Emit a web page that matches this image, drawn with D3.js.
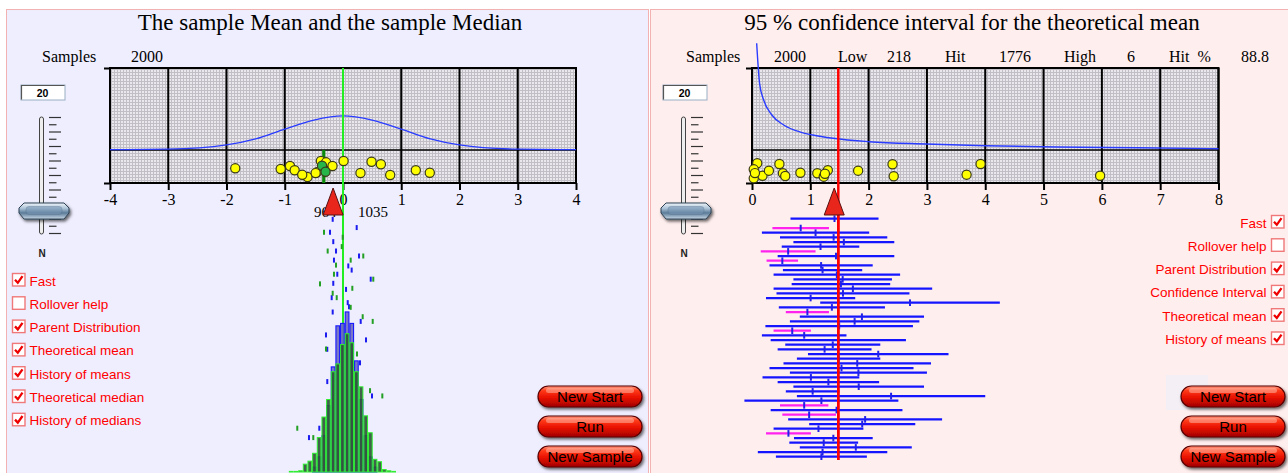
<!DOCTYPE html>
<html><head><meta charset="utf-8">
<script src="https://cdn.jsdelivr.net/npm/d3@7"></script>
<style>
html,body{margin:0;padding:0;background:#fff;}
svg{display:block;}
</style></head><body>
<svg id="chart" width="1288" height="473"></svg>
<script>
// ---------- data ----------
const leftTitle = "The sample Mean and the sample Median";
const rightTitle = "95 % confidence interval for the theoretical mean";
const sampleSize = 20;
const samplesDrawn = 2000;
const leftTicks = [-4, -3, -2, -1, 0, 1, 2, 3, 4];
const rightTicks = [0, 1, 2, 3, 4, 5, 6, 7, 8];

// parent distributions (value, density)
const normalX = [-4, -3, -2, -1.5, -1, -0.5, 0, 0.5, 1, 1.5, 2, 3, 4];
const normalDensity = [0.004, 0.01, 0.06, 0.13, 0.245, 0.35, 0.399, 0.35, 0.245, 0.13, 0.06, 0.01, 0.004];
const skewX = [0.08, 0.13, 0.20, 0.34, 0.55, 0.83, 1.04, 1.39, 2.01, 2.98, 4.01, 5.22, 6.61, 8.0];
const skewDensity = [1.25, 0.78, 0.585, 0.41, 0.29, 0.21, 0.176, 0.137, 0.097, 0.07, 0.05, 0.035, 0.027, 0.015];

// current samples of size 20 and the jitter used to spread the dots
const leftSample = [-1.85, -1.07, -0.91, -0.83, -0.61, -0.45, -0.38, -0.29, -0.18, 0.01, 0.30, 0.49, 0.65, 0.81, 1.25, 1.49, -0.36, -0.30, -0.47, -0.70];
const leftJitter = [0.445, 0.424, 0.515, 0.385, 0.182, 0.324, 0.667, 0.627, 0.515, 0.667, 0.303, 0.645, 0.567, 0.242, 0.385, 0.312, 0.524, 0.342, 0.30, 0.25];
const rightSample = [0.09, 0.03, 0.03, 0.18, 0.29, 0.47, 0.53, 0.57, 0.83, 1.12, 1.23, 1.30, 1.82, 2.41, 2.43, 3.68, 3.92, 5.97, 0.05, 1.25];
const rightJitter = [0.597, 0.415, 0.142, 0.221, 0.373, 0.576, 0.294, 0.212, 0.312, 0.294, 0.191, 0.385, 0.373, 0.567, 0.203, 0.252, 0.576, 0.221, 0.30, 0.28];

const theoreticalMeanLeft = 0;
const theoreticalMeanRight = 1.48;
const meanSplit = [964, 1035];

// histories of sample means / medians (value, level in the history column)
const historyMeans = [-0.177, -0.223, 0.235, -0.167, -0.120, 0.275, -0.155, 0.091, 0.149, -0.098, 0.476, -0.167, 0.052, -0.194, 0.081, 0.103, -0.177, 0.304, -0.292, 0.395, -0.270, 0.292, -0.270, 0.498, -0.407, -0.584];
const historyMeanLevel = [0.088, 0.135, 0.118, 0.169, 0.203, 0.221, 0.236, 0.257, 0.272, 0.287, 0.305, 0.320, 0.342, 0.372, 0.390, 0.405, 0.424, 0.458, 0.507, 0.525, 0.559, 0.608, 0.676, 0.728, 0.845, 0.879];
const historyMedians = [-0.326, -0.005, -0.022, -0.263, 0.132, 0.348, -0.120, -0.155, -0.395, 0.520, 0.160, -0.108, -0.177, 0.132, 0.338, 0.510, -0.292, 0.240, 0.464, 0.675, -0.785, -0.510];
const historyMedianLevel = [0.135, 0.153, 0.187, 0.203, 0.236, 0.221, 0.254, 0.287, 0.322, 0.305, 0.338, 0.372, 0.356, 0.407, 0.441, 0.458, 0.558, 0.576, 0.709, 0.728, 0.845, 0.879];

// histogram of the 2000 means and medians
const binLefts = [-0.93, -0.85, -0.77, -0.69, -0.61, -0.53, -0.45, -0.37, -0.29, -0.21, -0.13, -0.05, 0.03, 0.11, 0.19, 0.27, 0.35, 0.43, 0.51, 0.59, 0.67, 0.75, 0.83];
const binWidth = 0.08;
const meanCounts = [0, 0, 0, 0, 0, 8, 25, 60, 110, 174, 242, 246, 265, 246, 184, 120, 60, 25, 8, 0, 0, 0, 0];
const medianCounts = [1, 1, 2, 13, 18, 31, 57, 91, 120, 166, 179, 211, 229, 214, 166, 141, 93, 65, 21, 17, 4, 2, 1];

// 95% confidence intervals of the latest samples, newest first (null = no interval)
const ciLow = [0.66, null, 0.35, 0.17, 0.48, 0.71, 0.51, 0.15, 0.44, 0.25, 0.30, 0.53, 0.37, 0.71, 0.68, 0.37, 0.42, 0.24, 1.17, 0.46, 0.58, 0.82, 0.65, 0.23, 0.37, 0.17, 0.32, 0.57, 0.44, 0.96, 0.77, 0.54, 0.30, 0.65, 0.18, 0.44, 0.71, 0.58, 0.77, -0.13, 0.48, 0.32, 0.52, 0.62, 0.98, 0.37, 0.24, 0.72, 0.64, 0.82, 0.10, 0.41];
const ciHigh = [2.17, null, 1.32, 2.01, 2.32, 2.44, 1.84, 1.09, 2.44, 0.79, 2.07, 1.89, 2.54, 2.40, 2.37, 3.09, 2.70, 1.77, 4.25, 2.28, 1.32, 2.95, 2.87, 2.76, 1.01, 1.62, 2.64, 2.20, 2.05, 3.37, 2.20, 3.07, 2.77, 3.00, 1.84, 2.18, 2.95, 1.50, 4.00, 2.51, 1.31, 2.58, 1.44, 3.26, 2.80, 1.91, 1.01, 2.07, 1.82, 2.74, 2.32, 1.97];

const rightStatNames = ["Samples", "Low", "Hit", "High", "Hit\u00a0\u00a0%"];
const rightStatValues = ["2000", "218", "1776", "6", "88.8"];

const leftOptions = ["Fast", "Rollover help", "Parent Distribution", "Theoretical mean", "History of means", "Theoretical median", "History of medians"];
const leftChecked = [true, false, true, true, true, true, true];
const rightOptions = ["Fast", "Rollover help", "Parent Distribution", "Confidence Interval", "Theoretical mean", "History of means"];
const rightChecked = [true, false, true, true, true, true];
const buttonLabels = ["New Start", "Run", "New Sample"];

// ---------- layout ----------
const SERIF = "'Liberation Serif','Times New Roman',serif";
const SANS = "'Liberation Sans',Arial,sans-serif";
const plotTop = 68, plotBottom = 183, plotMid = 150;

const svg = d3.select("#chart");
const defs = svg.append("defs");

// fine mesh inside the plotting frames
const mesh = defs.append("pattern").attr("id", "mesh").attr("patternUnits", "userSpaceOnUse")
  .attr("width", 3).attr("height", 3);
mesh.append("rect").attr("width", 3).attr("height", 3).attr("fill", "#eae8ec");
mesh.append("path").attr("d", "M0,0.5H3M0.5,0V3").attr("stroke", "#c2bec6").attr("stroke-width", 1);

// glossy red button
const bg = defs.append("linearGradient").attr("id", "btn").attr("x1", 0).attr("x2", 0).attr("y1", 0).attr("y2", 1);
[["0%", "#ff9c86"], ["22%", "#ff3a18"], ["55%", "#e81200"], ["100%", "#a00000"]]
  .forEach(([o, c]) => bg.append("stop").attr("offset", o).attr("stop-color", c));
const thumbG = defs.append("linearGradient").attr("id", "thumb").attr("x1", 0).attr("x2", 0).attr("y1", 0).attr("y2", 1);
[["0%", "#eef4fa"], ["35%", "#a9c0d4"], ["62%", "#5a7b98"], ["100%", "#c9d8e6"]]
  .forEach(([o, c]) => thumbG.append("stop").attr("offset", o).attr("stop-color", c));
const sh = defs.append("filter").attr("id", "shadow").attr("x", "-20%").attr("y", "-30%").attr("width", "140%").attr("height", "170%");
sh.append("feDropShadow").attr("dx", 1.5).attr("dy", 2).attr("stdDeviation", 1.6).attr("flood-color", "#000").attr("flood-opacity", 0.6);

// panels
svg.append("rect").attr("x", 6.5).attr("y", 9.5).attr("width", 642).attr("height", 470)
  .attr("fill", "#eeeeff").attr("stroke", "#f2b2b2");
svg.append("rect").attr("x", 650.5).attr("y", 9.5).attr("width", 640).attr("height", 470)
  .attr("fill", "#ffeeee").attr("stroke", "#f2b2b2");

const xL = d3.scaleLinear().domain([-4, 4]).range([110, 576]);
const xR = d3.scaleLinear().domain([0, 8]).range([752, 1218.5]);
const densY = d3.scaleLinear().domain([0, 0.96]).range([plotMid, plotTop]);
const jitterY = d3.scaleLinear().domain([0, 1]).range([plotBottom, plotMid]);

function titleText(x, txt) {
  svg.append("text").attr("x", x).attr("y", 30).attr("text-anchor", "middle")
    .attr("font-family", SERIF).attr("font-size", 23).attr("fill", "#000").text(txt);
}
titleText(330, leftTitle);
titleText(972, rightTitle);

function frame(x, ticks) {
  const g = svg.append("g");
  const [x0, x1] = x.range();
  g.append("rect").attr("x", x0).attr("y", plotTop).attr("width", x1 - x0).attr("height", plotBottom - plotTop)
    .attr("fill", "url(#mesh)");
  g.selectAll("line.major").data(ticks).join("line").attr("class", "major")
    .attr("x1", d => x(d)).attr("x2", d => x(d)).attr("y1", plotTop).attr("y2", plotBottom)
    .attr("stroke", "#000").attr("stroke-width", 2);
  g.append("line").attr("x1", x0).attr("x2", x1).attr("y1", plotMid).attr("y2", plotMid)
    .attr("stroke", "#000").attr("stroke-width", 1.5);
  g.append("rect").attr("x", x0).attr("y", plotTop).attr("width", x1 - x0).attr("height", plotBottom - plotTop)
    .attr("fill", "none").attr("stroke", "#000").attr("stroke-width", 2);
  const ax = g.append("g").attr("transform", `translate(0,${plotBottom})`)
    .call(d3.axisBottom(x).tickValues(ticks).tickFormat(d => String(d)).tickSize(7).tickPadding(4));
  ax.select(".domain").remove();
  ax.selectAll(".tick line").attr("stroke", "#000").attr("stroke-width", 2);
  ax.selectAll(".tick text").attr("font-family", SERIF).attr("font-size", 16).attr("fill", "#000");
  const ly = d3.scaleLinear().domain([0, 1]).range([plotBottom, plotTop]);
  const lax = g.append("g").attr("transform", `translate(${x0},0)`)
    .call(d3.axisLeft(ly).tickValues([0, 1]).tickFormat("").tickSize(6));
  lax.select(".domain").remove();
  lax.selectAll(".tick line").attr("stroke", "#000").attr("stroke-width", 2);
  return g;
}

function densityCurve(g, x, xs, ds) {
  const pts = xs.map((v, i) => [v, ds[i]]);
  g.append("path").datum(pts)
    .attr("d", d3.line().x(d => x(d[0])).y(d => densY(d[1])).curve(d3.curveMonotoneX))
    .attr("fill", "none").attr("stroke", "#2a3cff").attr("stroke-width", 1.4);
}

function triangle(x, v) {
  const cx = x(v);
  svg.append("path").attr("d", `M${cx},188L${cx + 10},215L${cx - 10},215Z`)
    .attr("fill", "#e8261c").attr("stroke", "#5a1010").attr("stroke-width", 1);
}

function slider(dx) {
  const g = svg.append("g").attr("transform", `translate(${dx},0)`);
  g.append("rect").attr("x", 21).attr("y", 85).attr("width", 44).attr("height", 15)
    .attr("fill", "#fff").attr("stroke", "#9aaec4").attr("stroke-width", 1);
  g.append("path").attr("d", "M21.5,99.5V85.5H64.5").attr("fill", "none").attr("stroke", "#555").attr("stroke-width", 1.2);
  g.append("text").attr("x", 42.5).attr("y", 96.5).attr("text-anchor", "middle")
    .attr("font-family", SANS).attr("font-size", 10.5).attr("font-weight", "bold").text(String(sampleSize));
  g.append("rect").attr("x", 39.5).attr("y", 117).attr("width", 4).attr("height", 117).attr("rx", 2)
    .attr("fill", "#eeeeee").attr("stroke", "#444").attr("stroke-width", 1);
  g.selectAll("line.tk").data(d3.range(17)).join("line").attr("class", "tk")
    .attr("x1", 49).attr("x2", i => i % 2 === 0 ? 61 : 56.5)
    .attr("y1", i => 117.5 + i * 7.25).attr("y2", i => 117.5 + i * 7.25)
    .attr("stroke", "#333").attr("stroke-width", 1.2);
  const t = g.append("g").attr("filter", "url(#shadow)");
  t.append("path").attr("d", "M24,203H64L69,208V213L64,219H24L19,213V208Z")
    .attr("fill", "url(#thumb)").attr("stroke", "#2f4254").attr("stroke-width", 1);
  t.append("rect").attr("x", 26).attr("y", 206.5).attr("width", 36).attr("height", 8).attr("rx", 3)
    .attr("fill", "#7595b3").attr("opacity", 0.55).attr("stroke", "#4f6c88").attr("stroke-width", 0.7);
  g.append("text").attr("x", 42).attr("y", 257).attr("text-anchor", "middle")
    .attr("font-family", SANS).attr("font-size", 10).attr("font-weight", "bold").attr("fill", "#222").text("N");
}

function checkbox(g, x, y, on) {
  g.append("rect").attr("x", x + 0.5).attr("y", y + 0.5).attr("width", 12.5).attr("height", 12.5)
    .attr("fill", "#fff").attr("stroke", "#f07878").attr("stroke-width", 1.4);
  if (on) g.append("path").attr("d", `M${x + 3},${y + 6.8}L${x + 5.8},${y + 9.8}L${x + 10.5},${y + 3.2}`)
    .attr("fill", "none").attr("stroke", "#ee0000").attr("stroke-width", 2.3);
}

function buttons(x0) {
  const g = svg.append("g");
  buttonLabels.forEach((lab, i) => {
    const y = 386 + i * 30;
    const b = g.append("g").attr("filter", "url(#shadow)");
    b.append("rect").attr("x", x0).attr("y", y).attr("width", 104).attr("height", 21).attr("rx", 10.5)
      .attr("fill", "url(#btn)").attr("stroke", "#5a0000").attr("stroke-width", 1.2);
    g.append("rect").attr("x", x0 + 8).attr("y", y + 2).attr("width", 88).attr("height", 5).attr("rx", 2.5)
      .attr("fill", "#ffd0c0").attr("opacity", 0.45);
    g.append("text").attr("x", x0 + 52).attr("y", y + 16).attr("text-anchor", "middle")
      .attr("font-family", SANS).attr("font-size", 15).attr("fill", "#000").text(lab);
  });
}

// ---------- left panel ----------
slider(0);
svg.append("text").attr("x", 42).attr("y", 62).attr("font-family", SERIF).attr("font-size", 16).text("Samples");
svg.append("text").attr("x", 131).attr("y", 62).attr("font-family", SERIF).attr("font-size", 16).text(String(samplesDrawn));

const gL = frame(xL, leftTicks);
densityCurve(gL, xL, normalX, normalDensity);

// theoretical mean / median line
svg.append("line").attr("x1", xL(theoreticalMeanLeft)).attr("x2", xL(theoreticalMeanLeft))
  .attr("y1", plotTop).attr("y2", 472).attr("stroke", "#22ee22").attr("stroke-width", 2);

const sampleMedian = d3.median(leftSample);
const sampleMean = d3.mean(leftSample);
svg.append("line").attr("x1", xL(sampleMedian)).attr("x2", xL(sampleMedian))
  .attr("y1", plotMid).attr("y2", plotBottom).attr("stroke", "#0a8a0a").attr("stroke-width", 3.2);

const sortedLeft = leftSample.slice().sort(d3.ascending);
const midVals = [sortedLeft[sampleSize / 2 - 1], sortedLeft[sampleSize / 2]];
const leftDots = leftSample.map((v, i) => ({ v, j: leftJitter[i], mid: midVals.includes(v) }))
  .sort((a, b) => a.mid - b.mid);
svg.append("g").selectAll("circle").data(leftDots).join("circle")
  .attr("cx", d => xL(d.v)).attr("cy", d => jitterY(d.j)).attr("r", 4.6)
  .attr("fill", d => d.mid ? "#25b548" : "#ffff00").attr("stroke", "#3a3a1a").attr("stroke-width", 1.2);

// counts of means below / above the theoretical mean
svg.append("text").attr("x", xL(theoreticalMeanLeft) - 29).attr("y", 217).attr("font-family", SERIF)
  .attr("font-size", 15).text(String(meanSplit[0]));
svg.append("text").attr("x", xL(theoreticalMeanLeft) + 15).attr("y", 217).attr("font-family", SERIF)
  .attr("font-size", 15).text(String(meanSplit[1]));

// history of means and medians + histograms
const histY = d3.scaleLinear().domain([0, 1]).range([195, 471]);
const countY = d3.scaleLinear().domain([0, 250]).range([472, 321]);
const hist = svg.append("g");
hist.selectAll("rect.hm").data(historyMeans).join("rect").attr("class", "hm")
  .attr("x", d => xL(d) - 1).attr("y", (d, i) => histY(historyMeanLevel[i]) - 2.5)
  .attr("width", 2).attr("height", 5).attr("fill", "#1b1bf0");
hist.selectAll("rect.hd").data(historyMedians).join("rect").attr("class", "hd")
  .attr("x", d => xL(d) - 1).attr("y", (d, i) => histY(historyMedianLevel[i]) - 2.5)
  .attr("width", 2).attr("height", 5).attr("fill", "#23a023");

const bins = binLefts.map((b, i) => ({ b, m: meanCounts[i], md: medianCounts[i] }));
hist.selectAll("rect.bm").data(bins.filter(d => d.m > 0)).join("rect").attr("class", "bm")
  .attr("x", d => xL(d.b) + 0.5).attr("width", d => xL(d.b + binWidth) - xL(d.b) - 1)
  .attr("y", d => countY(d.m)).attr("height", d => countY(0) - countY(d.m))
  .attr("fill", "#6a68c0").attr("fill-opacity", 0.9).attr("stroke", "#1818ff").attr("stroke-width", 1.1);
hist.selectAll("rect.bd").data(bins.filter(d => d.md > 0)).join("rect").attr("class", "bd")
  .attr("x", d => xL(d.b) + 0.5).attr("width", d => xL(d.b + binWidth) - xL(d.b) - 1)
  .attr("y", d => countY(d.md)).attr("height", d => countY(0) - countY(d.md))
  .attr("fill", "#2c5236").attr("fill-opacity", 0.9).attr("stroke", "#30f030").attr("stroke-width", 1);

triangle(xL, sampleMean);

const optL = svg.append("g");
leftOptions.forEach((lab, i) => {
  const y = 273 + i * 23.3;
  checkbox(optL, 12, y, leftChecked[i]);
  optL.append("text").attr("x", 29.5).attr("y", y + 12.5).attr("font-family", SANS).attr("font-size", 13.5)
    .attr("fill", "#ff0000").text(lab);
});
buttons(538);

// ---------- right panel ----------
slider(642);
const statX = [686, 838, 945, 1064, 1169];
const statValX = [790, 899, 1015, 1131, 1255];
rightStatNames.forEach((n, i) => {
  svg.append("text").attr("x", statX[i]).attr("y", 62).attr("font-family", SERIF).attr("font-size", 16).text(n);
  svg.append("text").attr("x", statValX[i]).attr("y", 62).attr("text-anchor", "middle")
    .attr("font-family", SERIF).attr("font-size", 16).text(rightStatValues[i]);
});

const gR = frame(xR, rightTicks);
densityCurve(svg, xR, skewX, skewDensity);

svg.append("line").attr("x1", xR(theoreticalMeanRight)).attr("x2", xR(theoreticalMeanRight))
  .attr("y1", plotTop).attr("y2", 460).attr("stroke", "#ff0000").attr("stroke-width", 2.5);

svg.append("g").selectAll("circle").data(rightSample).join("circle")
  .attr("cx", d => xR(d)).attr("cy", (d, i) => jitterY(rightJitter[i])).attr("r", 4.6)
  .attr("fill", "#ffff00").attr("stroke", "#3a3a1a").attr("stroke-width", 1.2);

const rowY = d3.scaleLinear().domain([0, 51]).range([218.7, 456.7]);
const ci = ciLow.map((lo, i) => ({ i, lo, hi: ciHigh[i] })).filter(d => d.lo !== null);
const miss = d => d.hi < theoreticalMeanRight || d.lo > theoreticalMeanRight;
const gCI = svg.append("g");
gCI.selectAll("line.ci").data(ci).join("line").attr("class", "ci")
  .attr("x1", d => xR(d.lo)).attr("x2", d => xR(d.hi)).attr("y1", d => rowY(d.i)).attr("y2", d => rowY(d.i))
  .attr("stroke", d => miss(d) ? "#ff22ee" : "#1414ff").attr("stroke-width", 2.2);
gCI.selectAll("line.cm").data(ci).join("line").attr("class", "cm")
  .attr("x1", d => xR((d.lo + d.hi) / 2)).attr("x2", d => xR((d.lo + d.hi) / 2))
  .attr("y1", d => rowY(d.i) - 3.3).attr("y2", d => rowY(d.i) + 3.3)
  .attr("stroke", "#2020e8").attr("stroke-width", 2);
// theoretical mean drawn over the intervals
svg.append("line").attr("x1", xR(theoreticalMeanRight)).attr("x2", xR(theoreticalMeanRight))
  .attr("y1", 215).attr("y2", 460).attr("stroke", "#ff0000").attr("stroke-width", 2.5);

triangle(xR, d3.mean(rightSample));

const optR = svg.append("g");
rightOptions.forEach((lab, i) => {
  const y = 215 + i * 23.3;
  checkbox(optR, 1271, y, rightChecked[i]);
  optR.append("text").attr("x", 1266.5).attr("y", y + 12.5).attr("text-anchor", "end")
    .attr("font-family", SANS).attr("font-size", 13.5).attr("fill", "#ff0000").text(lab);
});
svg.append("rect").attr("x", 1166).attr("y", 375).attr("width", 42).attr("height", 35).attr("fill", "#f4eef5");
buttons(1181);
</script>
</body></html>
